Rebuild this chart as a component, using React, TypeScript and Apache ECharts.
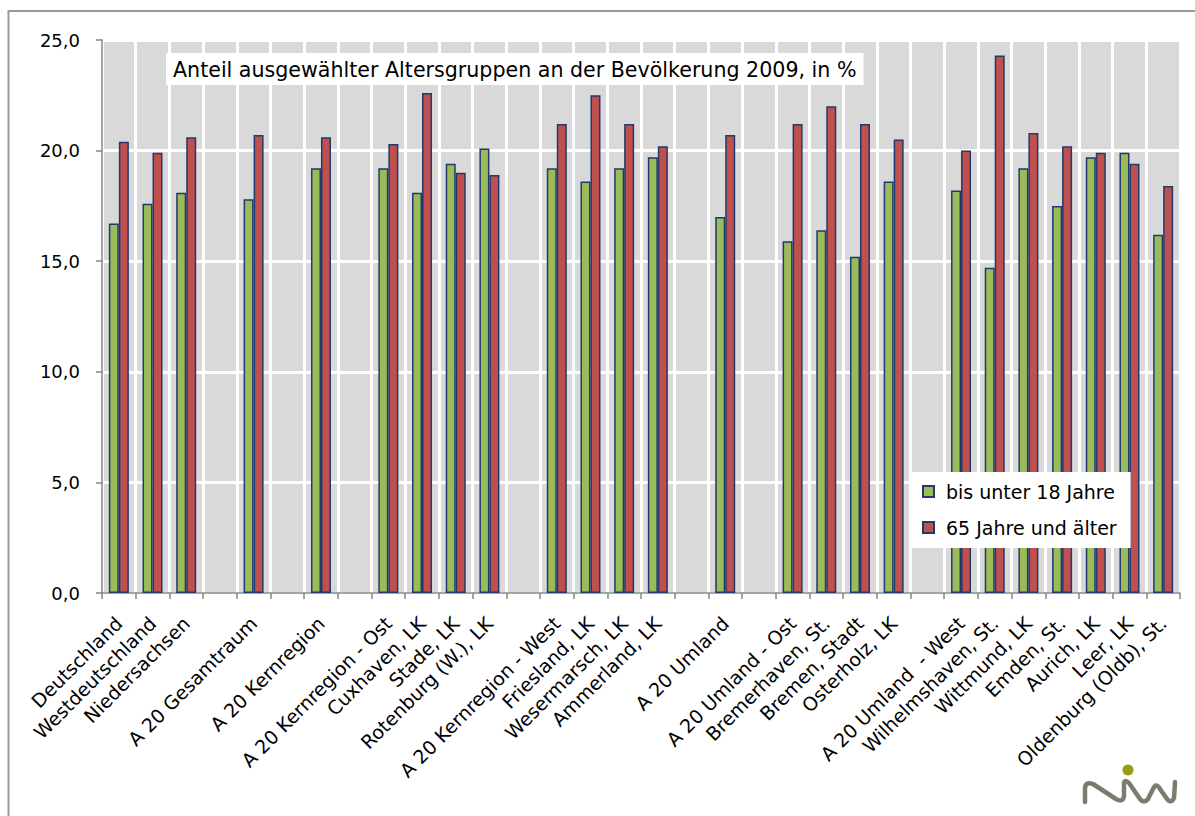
import React, { useEffect, useRef } from "react";
import * as echarts from "echarts";

const categories = [
  "Deutschland", "Westdeutschland", "Niedersachsen", "",
  "A 20 Gesamtraum", "", "A 20 Kernregion", "",
  "A 20 Kernregion - Ost", "Cuxhaven, LK", "Stade, LK", "Rotenburg (W.), LK", "",
  "A 20 Kernregion - West", "Friesland, LK", "Wesermarsch, LK", "Ammerland, LK", "",
  "A 20 Umland", "",
  "A 20 Umland - Ost", "Bremerhaven, St.", "Bremen, Stadt", "Osterholz, LK", "",
  "A 20 Umland  - West", "Wilhelmshaven, St.", "Wittmund, LK", "Emden, St.", "Aurich, LK", "Leer, LK", "Oldenburg (Oldb), St.",
];

const under18 = [
  16.7, 17.6, 18.1, null,
  17.8, null, 19.2, null,
  19.2, 18.1, 19.4, 20.1, null,
  19.2, 18.6, 19.2, 19.7, null,
  17.0, null,
  15.9, 16.4, 15.2, 18.6, null,
  18.2, 14.7, 19.2, 17.5, 19.7, 19.9, 16.2,
];

const over65 = [
  20.4, 19.9, 20.6, null,
  20.7, null, 20.6, null,
  20.3, 22.6, 19.0, 18.9, null,
  21.2, 22.5, 21.2, 20.2, null,
  20.7, null,
  21.2, 22.0, 21.2, 20.5, null,
  20.0, 24.3, 20.8, 20.2, 19.9, 19.4, 18.4,
];

const seriesNames = ["bis unter 18 Jahre", "65 Jahre und älter"];
const titleText = "Anteil ausgewählter Altersgruppen an der Bevölkerung 2009, in %";

const FONT = "'DejaVu Sans', sans-serif";

const logoPath =
  "M1085,802 L1085,789 Q1085,781 1093,784 L1116,799 Q1123,803 1124,796 L1124,783 Q1125,779 1129,783 L1140,799 Q1144,804 1148,799 L1153,789 Q1156,782 1160,789 L1167,799 Q1171,804 1174,798 L1175,782";

export default function App() {
  const ref = useRef<HTMLDivElement>(null);
  useEffect(() => {
    if (!ref.current) return;
    echarts.graphic.registerShape("logo", echarts.graphic.extendPath(logoPath, {}));
    const chart = echarts.init(ref.current, null, { renderer: "svg" });
    const border = "#1F3A6E";
    chart.setOption({
      animation: false,
      backgroundColor: "#fff",
      textStyle: { fontFamily: FONT },
      title: {
        text: titleText,
        left: 166,
        top: 53,
        backgroundColor: "#fff",
        padding: [6, 7, 5, 7],
        textStyle: { fontFamily: FONT, fontSize: 20.6, fontWeight: "normal", color: "#000" },
      },
      legend: {
        orient: "vertical",
        left: 910,
        top: 472,
        backgroundColor: "#fff",
        padding: [10, 14, 11, 12],
        itemGap: 17,
        itemWidth: 11,
        itemHeight: 11,
        icon: "rect",
        textStyle: { fontFamily: FONT, fontSize: 19, color: "#000", padding: [0, 0, 0, 7] },
        data: seriesNames,
      },
      grid: {
        left: 102,
        top: 40,
        width: 1078,
        height: 553,
        show: true,
        backgroundColor: "#d9d9d9",
        borderWidth: 0,
      },
      xAxis: {
        type: "category",
        data: categories,
        axisLine: { show: true, lineStyle: { color: "#868686", width: 1.5 } },
        axisTick: { show: true, length: 6, lineStyle: { color: "#868686", width: 1.5 } },
        splitLine: { show: true, lineStyle: { color: "#fff", width: 3 } },
        axisLabel: {
          interval: 0,
          rotate: 45,
          margin: 27,
          fontFamily: FONT,
          fontSize: 19,
          color: "#000",
        },
      },
      yAxis: {
        type: "value",
        min: 0,
        max: 25,
        interval: 5,
        axisLine: { show: true, lineStyle: { color: "#868686", width: 1.5 } },
        axisTick: { show: true, length: 6, lineStyle: { color: "#868686", width: 1.5 } },
        splitLine: { show: true, lineStyle: { color: "#fff", width: 3 } },
        axisLabel: {
          margin: 22,
          fontFamily: FONT,
          fontSize: 18,
          color: "#000",
          formatter: (v: number) => v.toFixed(1).replace(".", ","),
        },
      },
      series: [
        {
          name: seriesNames[0],
          type: "bar",
          data: under18,
          barWidth: 10,
          barGap: "0%",
          itemStyle: { color: "#9BBB59", borderColor: border, borderWidth: 1.5 },
        },
        {
          name: seriesNames[1],
          type: "bar",
          data: over65,
          barWidth: 10,
          barGap: "0%",
          itemStyle: { color: "#C0504D", borderColor: border, borderWidth: 1.5 },
        },
      ],
      graphic: [
        {
          type: "rect",
          shape: { x: 8.5, y: 11, width: 1300, height: 900 },
          style: { fill: "none", stroke: "#9a9a9a", lineWidth: 2 },
          silent: true,
        },
        {
          type: "logo",
          x: 0,
          y: 0,
          style: { fill: "none", stroke: "#7b7c6e", lineWidth: 4.5, lineCap: "round", lineJoin: "round" },
          silent: true,
        },
        {
          type: "circle",
          shape: { cx: 1128, cy: 770, r: 5.5 },
          style: { fill: "#9c9c12" },
          silent: true,
        },
      ],
    });
    return () => chart.dispose();
  }, []);
  return (
    <div
      ref={ref}
      style={{ position: "absolute", left: 0, top: 0, width: 1195, height: 816, background: "#fff" }}
    />
  );
}
